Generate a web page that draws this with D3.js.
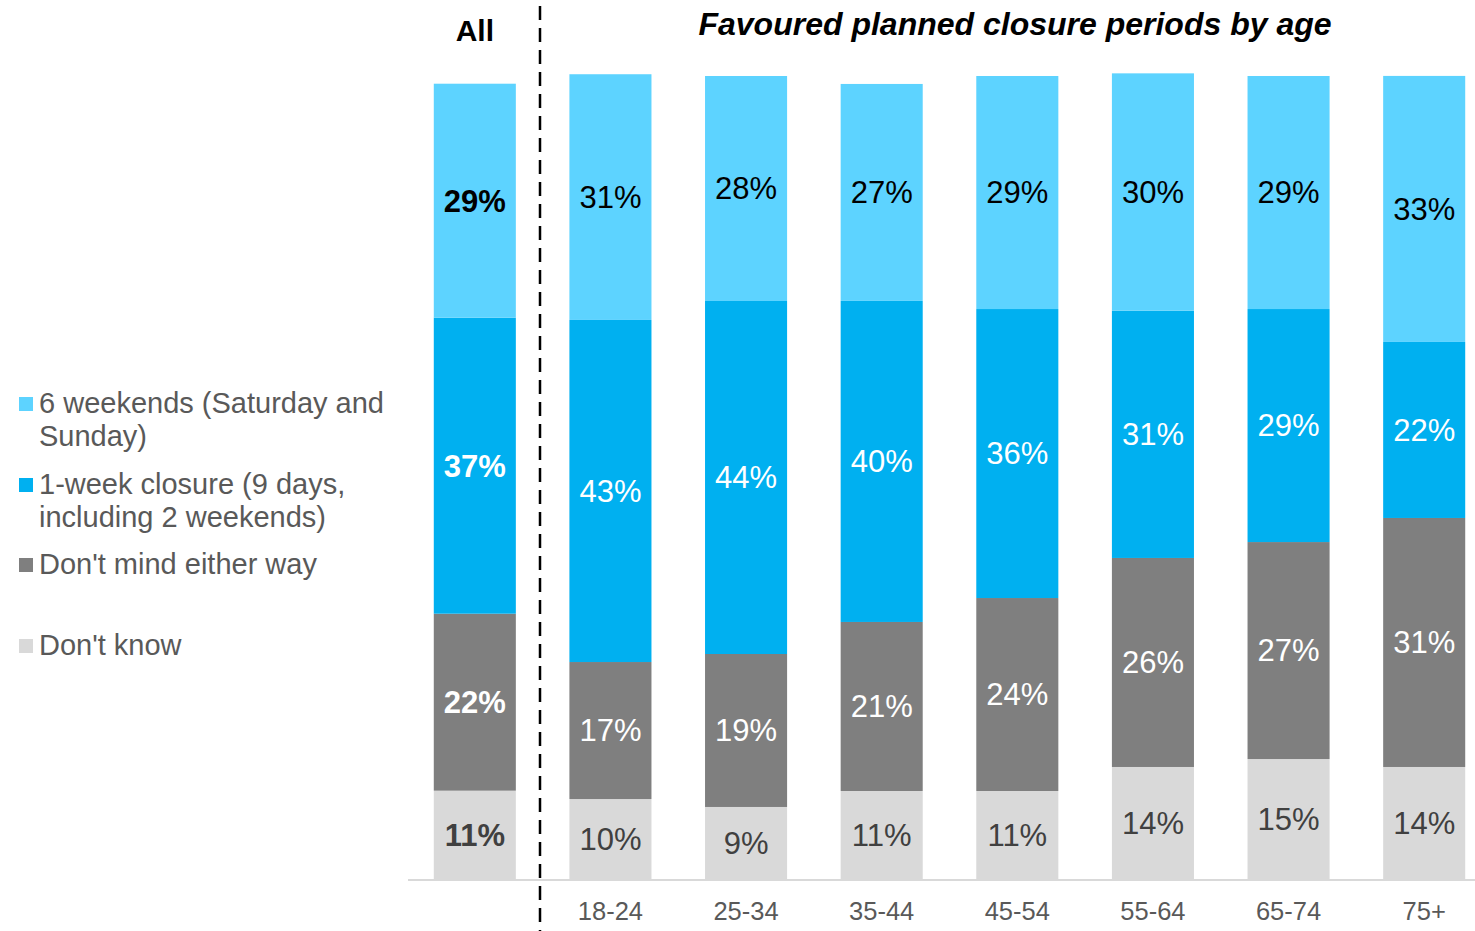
<!DOCTYPE html>
<html>
<head>
<meta charset="utf-8">
<script src="https://cdn.jsdelivr.net/npm/d3@7"></script>
<style>
  body { margin: 0; background: #fff; }
  svg { font-family: "Liberation Sans", Arial, sans-serif; }
</style>
</head>
<body>
<svg></svg>
<script>
// categories (All + age groups)
var groups = ["All", "18-24", "25-34", "35-44", "45-54", "55-64", "65-74", "75+"]

// series, bottom to top of each bar (values in %)
var dontKnow  = [11.0,  9.96,  8.97, 10.96, 10.96, 13.95, 14.94, 13.95]
var dontMind  = [22.04, 17.06, 19.05, 21.05, 24.03, 26.03, 27.02, 31.01]
var oneWeek   = [36.86, 42.6,  43.96, 39.98, 35.99, 30.8,  29.02, 21.92]
var sixWeekends = [29.14, 30.6, 28.02, 27.02, 29.02, 29.55, 29.02, 33.13]

var keys = ["dontKnow", "dontMind", "oneWeek", "sixWeekends"]
var legendNames = {
    sixWeekends: ["6 weekends (Saturday and", "Sunday)"],
    oneWeek: ["1-week closure (9 days,", "including 2 weekends)"],
    dontMind: ["Don't mind either way"],
    dontKnow: ["Don't know"]
}
var colours = {dontKnow: "#d9d9d9", dontMind: "#7f7f7f", oneWeek: "#00b0f0", sixWeekends: "#5dd3ff"}
var labelColours = {dontKnow: "#404040", dontMind: "#ffffff", oneWeek: "#ffffff", sixWeekends: "#000000"}

var width = 1475, height = 931

var svg = d3.select("svg")
    .attr("width", width)
    .attr("height", height)

// build rows for the stack
var rows = groups.map(function (g, i) {
    return {group: g, dontKnow: dontKnow[i], dontMind: dontMind[i], oneWeek: oneWeek[i], sixWeekends: sixWeekends[i]}
})

var series = d3.stack().keys(keys)(rows)

var x = d3.scaleBand()
    .domain(groups)
    .range([407, 1492])
    .paddingInner(0.395)
    .paddingOuter(0.1975)

var y = d3.scaleLinear()
    .domain([0, 100])
    .range([879, 76])

// bars
var layer = svg.selectAll("g.layer")
    .data(series)
    .enter().append("g")
    .attr("class", "layer")
    .attr("fill", function (d) { return colours[d.key] })

layer.selectAll("rect")
    .data(function (d) { return d })
    .enter().append("rect")
    .attr("x", function (d) { return x(d.data.group) })
    .attr("y", function (d) { return y(d[1]) })
    .attr("width", x.bandwidth())
    .attr("height", function (d) { return y(d[0]) - y(d[1]) })

// value labels
series.forEach(function (s) {
    svg.append("g").selectAll("text")
        .data(s)
        .enter().append("text")
        .attr("x", function (d) { return x(d.data.group) + x.bandwidth() / 2 })
        .attr("y", function (d) { return (y(d[0]) + y(d[1])) / 2 })
        .attr("dy", "0.35em")
        .attr("text-anchor", "middle")
        .attr("font-size", 31)
        .attr("font-weight", function (d) { return d.data.group == "All" ? "bold" : "normal" })
        .attr("fill", labelColours[s.key])
        .text(function (d) { return Math.round(d.data[s.key]) + "%" })
})

// baseline
svg.append("line")
    .attr("x1", 408).attr("x2", 1475)
    .attr("y1", y(0) + 1).attr("y2", y(0) + 1)
    .style("stroke", "#d9d9d9")
    .style("stroke-width", 2)

// category labels (no label under "All")
svg.append("g").selectAll("text")
    .data(groups.slice(1))
    .enter().append("text")
    .attr("x", function (d) { return x(d) + x.bandwidth() / 2 })
    .attr("y", 920)
    .attr("text-anchor", "middle")
    .attr("font-size", 25.5)
    .attr("fill", "#595959")
    .text(function (d) { return d })

// dashed separator
svg.append("line")
    .attr("x1", 540).attr("x2", 540)
    .attr("y1", 6).attr("y2", 931)
    .style("stroke", "#000")
    .style("stroke-width", 2.5)
    .style("stroke-dasharray", "14,8")

// titles
svg.append("text")
    .attr("x", x("All") + x.bandwidth() / 2)
    .attr("y", 41)
    .attr("text-anchor", "middle")
    .attr("font-size", 30)
    .attr("font-weight", "bold")
    .text("All")

svg.append("text")
    .attr("x", 1015)
    .attr("y", 35)
    .attr("text-anchor", "middle")
    .attr("font-size", 32)
    .attr("font-weight", "bold")
    .attr("font-style", "italic")
    .text("Favoured planned closure periods by age")

// legend
var legendY = {sixWeekends: 403, oneWeek: 484, dontMind: 564, dontKnow: 645}
var legendKeys = ["sixWeekends", "oneWeek", "dontMind", "dontKnow"]

legendKeys.forEach(function (k) {
    svg.append("rect")
        .attr("x", 19)
        .attr("y", legendY[k] - 6)
        .attr("width", 14)
        .attr("height", 14)
        .attr("fill", colours[k])
    svg.append("text")
        .attr("x", 39)
        .attr("y", legendY[k])
        .attr("font-size", 29)
        .attr("fill", "#595959")
        .selectAll("tspan")
        .data(legendNames[k])
        .enter().append("tspan")
        .attr("x", 39)
        .attr("dy", function (d, i) { return i == 0 ? "0.35em" : 33 })
        .text(function (d) { return d })
})
</script>
</body>
</html>
